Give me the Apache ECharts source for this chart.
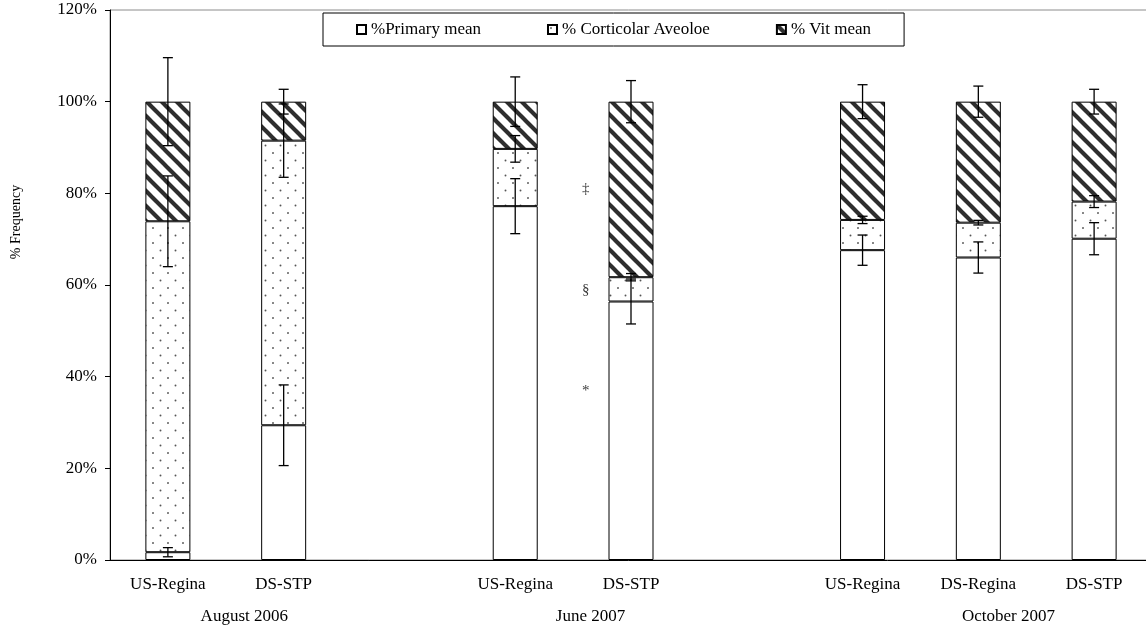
<!DOCTYPE html>
<html>
<head>
<meta charset="utf-8">
<title>% Frequency by site and date</title>
<script src="https://cdn.jsdelivr.net/npm/echarts@6/dist/echarts.min.js"></script>
<style>
  html, body { margin: 0; padding: 0; background: #fff; }
  #chart { width: 1146px; height: 635px; }
</style>
</head>
<body>
<div id="chart"></div>
<script>
// Sites along the axis; blank slots separate the sampling dates
const categories = ['US-Regina', 'DS-STP', '', 'US-Regina', 'DS-STP', '', 'US-Regina', 'DS-Regina', 'DS-STP'];
const dateGroups = ['August 2006', 'June 2007', 'October 2007'];

// Mean composition (%) for each site
const primaryMean    = [1.7, 29.4, null, 77.2, 56.4, null, 67.6, 66.0, 70.1];
const corticolarMean = [72.2, 62.1, null, 12.5, 5.3, null, 6.6, 7.6, 8.1];
const vitMean        = [26.1, 8.5, null, 10.3, 38.3, null, 25.8, 26.4, 21.8];

// Error (±) for each component
const primaryErr    = [1.0, 8.8, null, 6.0, 4.9, null, 3.3, 3.4, 3.5];
const corticolarErr = [9.9, 8.0, null, 2.9, 0.8, null, 0.8, 0.5, 1.3];
const vitErr        = [9.6, 2.7, null, 5.4, 4.6, null, 3.7, 3.4, 2.7];

// Significance markers next to the June 2007 DS-STP bar
const noteSymbols = ['‡', '§', '*'];
const noteLevels  = [80.9, 58.8, 36.9];
const noteSite    = 4;

// Value-axis ticks
const yMin = 0, yMax = 120, yStep = 20;

// ---- layout helpers ----
const FONT = '"Liberation Serif", "Times New Roman", serif';
const LABEL_SIZE = 17;
const groupLabelAt = [0.66, 3.65, 7.26];   // label centres in category units
const noteShift = -0.39;                    // markers sit left of their bar

function stripePattern() {
  const c = document.createElement('canvas');
  c.width = 15; c.height = 15;
  const g = c.getContext('2d');
  g.fillStyle = '#fff';
  g.fillRect(0, 0, 15, 15);
  g.strokeStyle = '#2e2e2e';
  g.lineWidth = 4.1;
  for (const x0 of [-15, 0, 15]) {
    g.beginPath();
    g.moveTo(x0 - 2, -2);
    g.lineTo(x0 + 17, 17);
    g.stroke();
  }
  return c;
}

function dotPattern() {
  const c = document.createElement('canvas');
  c.width = 15; c.height = 15;
  const g = c.getContext('2d');
  g.fillStyle = '#fff';
  g.fillRect(0, 0, 15, 15);
  g.fillStyle = '#555';
  for (const [x, y] of [[3, 3], [10.5, 10.5]]) {
    g.beginPath();
    g.arc(x, y, 0.95, 0, Math.PI * 2);
    g.fill();
  }
  return c;
}

// Whisker ranges [site, low, high] for one stacked segment
function whiskers(means, errs, below) {
  const out = [];
  means.forEach((m, i) => {
    if (m == null || errs[i] == null) return;
    let top = m;
    below.forEach(arr => { top += arr[i]; });
    out.push([i, top - errs[i], top + errs[i]]);
  });
  return out;
}

const whiskerData = [].concat(
  whiskers(primaryMean, primaryErr, []),
  whiskers(corticolarMean, corticolarErr, [primaryMean]),
  whiskers(vitMean, vitErr, [primaryMean, corticolarMean])
);

function renderWhisker(params, api) {
  const i = api.value(0);
  const lo = api.coord([i, api.value(1)]);
  const hi = api.coord([i, api.value(2)]);
  const w = 5;
  const st = { stroke: '#000', lineWidth: 1.3 };
  return {
    type: 'group',
    children: [
      { type: 'line', shape: { x1: hi[0], y1: hi[1], x2: lo[0], y2: lo[1] }, style: st },
      { type: 'line', shape: { x1: hi[0] - w, y1: hi[1], x2: hi[0] + w, y2: hi[1] }, style: st },
      { type: 'line', shape: { x1: lo[0] - w, y1: lo[1], x2: lo[0] + w, y2: lo[1] }, style: st }
    ]
  };
}

const barBase = {
  type: 'bar',
  stack: 'total',
  barWidth: 45,
  xAxisIndex: 0,
  yAxisIndex: 0,
  emphasis: { disabled: true }
};
const edge = { borderColor: '#000', borderWidth: 1 };

const chart = echarts.init(document.getElementById('chart'), null, { renderer: 'canvas' });

chart.setOption({
  animation: false,
  backgroundColor: '#fff',
  textStyle: { fontFamily: FONT, color: '#000' },
  grid: {
    left: 110, right: -6, top: 10, bottom: 75,
    show: true, borderColor: '#8c8c8c', borderWidth: 1,
    outerBoundsMode: 'none'
  },
  legend: {
    data: ['%Primary mean', '% Corticolar Aveoloe', '% Vit mean'],
    left: 323, top: 13,
    padding: [8, 33],
    itemGap: 66,
    itemWidth: 9, itemHeight: 9,
    icon: 'rect',
    backgroundColor: '#fff',
    borderColor: '#000', borderWidth: 1,
    textStyle: { fontFamily: FONT, fontSize: LABEL_SIZE, color: '#000' }
  },
  xAxis: [
    {
      type: 'category',
      data: categories,
      position: 'bottom',
      axisLine: { onZero: false, lineStyle: { color: '#000', width: 1 } },
      axisTick: { length: 5, lineStyle: { color: '#000' } },
      axisLabel: { fontFamily: FONT, fontSize: LABEL_SIZE, color: '#000', margin: 16, interval: 0 },
      splitLine: { show: false }
    },
    {
      type: 'value',
      position: 'bottom',
      min: -0.5, max: categories.length - 0.5,
      axisLine: { show: false, onZero: false },
      axisTick: { show: false },
      splitLine: { show: false },
      axisLabel: {
        customValues: groupLabelAt,
        fontFamily: FONT, fontSize: LABEL_SIZE, color: '#000', margin: 48,
        formatter: v => {
          const k = groupLabelAt.findIndex(p => Math.abs(p - v) < 1e-6);
          return k >= 0 ? dateGroups[k] : '';
        }
      }
    }
  ],
  yAxis: {
    type: 'value',
    position: 'left',
    min: yMin, max: yMax, interval: yStep,
    axisLine: { show: true, onZero: false, lineStyle: { color: '#000', width: 1 } },
    axisTick: { show: true, length: 5, lineStyle: { color: '#000' } },
    axisLabel: { fontFamily: FONT, fontSize: LABEL_SIZE, color: '#000', margin: 13, formatter: '{value}%' },
    splitLine: { show: false }
  },
  graphic: [
    {
      type: 'text',
      x: 16, y: 222,
      rotation: Math.PI / 2,
      style: {
        text: '% Frequency',
        font: '14px ' + FONT,
        fill: '#000',
        align: 'center',
        verticalAlign: 'middle'
      }
    }
  ],
  series: [
    Object.assign({}, barBase, {
      name: '%Primary mean',
      data: primaryMean,
      itemStyle: Object.assign({ color: '#fff' }, edge)
    }),
    Object.assign({}, barBase, {
      name: '% Corticolar Aveoloe',
      data: corticolarMean,
      itemStyle: Object.assign({ color: { image: dotPattern(), repeat: 'repeat' } }, edge)
    }),
    Object.assign({}, barBase, {
      name: '% Vit mean',
      data: vitMean,
      itemStyle: Object.assign({ color: { image: stripePattern(), repeat: 'repeat' } }, edge)
    }),
    {
      type: 'custom',
      name: 'whiskers',
      xAxisIndex: 0,
      yAxisIndex: 0,
      dimensions: ['site', 'low', 'high'],
      encode: { x: 0, y: [1, 2] },
      renderItem: renderWhisker,
      data: whiskerData,
      z: 5,
      silent: true
    },
    {
      type: 'scatter',
      name: 'notes',
      xAxisIndex: 1,
      yAxisIndex: 0,
      symbolSize: 0,
      silent: true,
      data: noteSymbols.map((s, k) => ({ name: s, value: [noteSite + noteShift, noteLevels[k]] })),
      label: {
        show: true,
        position: 'inside',
        formatter: p => p.name,
        fontFamily: FONT, fontSize: 15, color: '#000'
      }
    }
  ]
});
</script>
</body>
</html>
